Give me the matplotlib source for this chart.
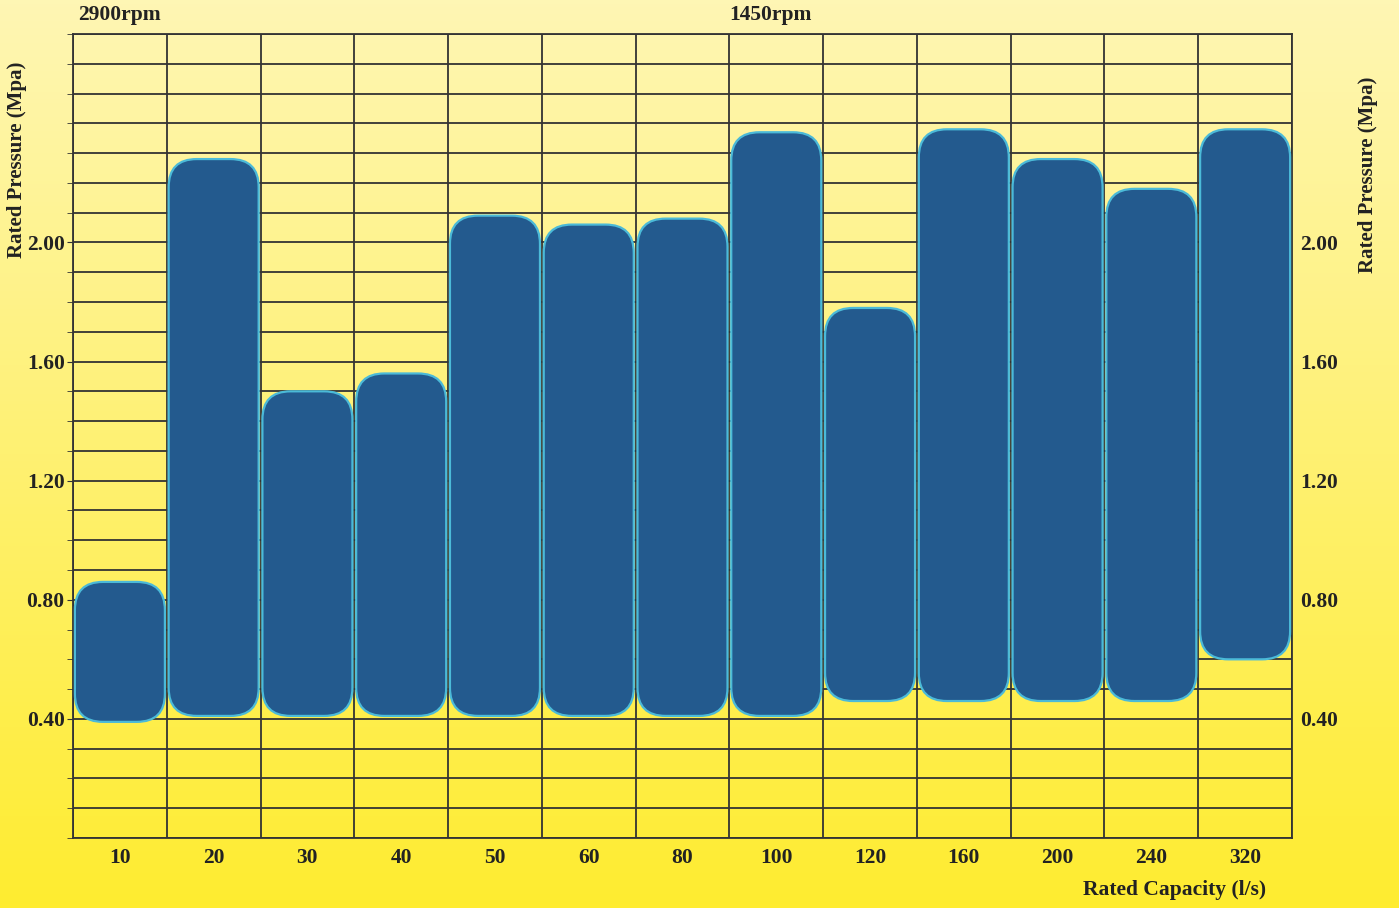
import numpy as np
import matplotlib
matplotlib.use('Agg')
import matplotlib.pyplot as plt
from matplotlib.patches import FancyBboxPatch
from matplotlib.colors import LinearSegmentedColormap

plt.rcParams['font.family'] = ['Liberation Serif', 'DejaVu Serif']
plt.rcParams['font.weight'] = 'bold'

capacity = ['10', '20', '30', '40', '50', '60', '80', '100', '120', '160', '200', '240', '320']
p_low = [0.39, 0.41, 0.41, 0.41, 0.41, 0.41, 0.41, 0.41, 0.46, 0.46, 0.46, 0.46, 0.60]
p_high = [0.86, 2.28, 1.50, 1.56, 2.09, 2.06, 2.08, 2.37, 1.78, 2.38, 2.28, 2.18, 2.38]
tick_vals = [0.4, 0.8, 1.2, 1.6, 2.0]

text_color = '#222222'
bar_color = '#235a8e'
edge_color = '#4bbad8'
grid_color = '#333333'

fig = plt.figure(figsize=(13.99, 9.08), dpi=100)

# background gradient
bg = fig.add_axes([0, 0, 1, 1], zorder=-10)
grad = LinearSegmentedColormap.from_list('bg', ['#fef6b4', '#ffec30'])
bg.imshow(np.linspace(0, 1, 256).reshape(-1, 1), aspect='auto', cmap=grad,
          extent=[0, 1, 0, 1])
bg.axis('off')

ax = fig.add_axes([73 / 1399, 1 - 838 / 908, (1292 - 73) / 1399, (838 - 34) / 908])
ax.patch.set_alpha(0)
n = len(capacity)
ax.set_xlim(-0.5, n - 0.5)
ax.set_ylim(0, 2.7)

# grid lines
for y in np.arange(0, 2.71, 0.1):
    ax.axhline(y, color=grid_color, lw=1.3, zorder=1)
for x in np.arange(-0.5, n, 1.0):
    ax.axvline(x, color=grid_color, lw=1.3, zorder=1)

# px per data unit for rounding correction
px_x = (1292 - 73) / n
px_y = (838 - 34) / 2.7
w = 0.96
for i in range(n):
    box = FancyBboxPatch((i - w / 2, p_low[i]), w, p_high[i] - p_low[i],
                         boxstyle='round,pad=0,rounding_size=0.3',
                         mutation_aspect=px_x / px_y,
                         facecolor=bar_color, edgecolor=edge_color, lw=1.6, zorder=3)
    ax.add_patch(box)

for s in ax.spines.values():
    s.set_color(grid_color)
    s.set_linewidth(1.3)

ax.set_xticks(range(n))
ax.set_xticklabels(capacity, fontsize=15.5, color=text_color, fontweight='bold')
ax.tick_params(axis='x', length=0, pad=7)
ax.set_yticks(tick_vals)
ax.set_yticklabels(['%.2f' % v for v in tick_vals], fontsize=15.5, color=text_color,
                   fontweight='bold')
ax.set_yticks(np.arange(0, 2.71, 0.1), minor=True)
ax.tick_params(axis='y', which='both', left=True, right=False, labelleft=True,
               labelright=True, length=4, color=grid_color, pad=2)

fig.text(78 / 1399, 1 - 15 / 908, '2900rpm', fontsize=15.5, color=text_color,
         fontweight='bold', ha='left', va='center')
fig.text(770 / 1399, 1 - 15 / 908, '1450rpm', fontsize=15.5, color=text_color,
         fontweight='bold', ha='center', va='center')

fig.text(17 / 1399, 1 - 160 / 908, 'Rated Pressure (Mpa)', rotation=90, fontsize=15,
         color=text_color, fontweight='bold', ha='center', va='center')
fig.text(1368 / 1399, 1 - 175 / 908, 'Rated Pressure (Mpa)', rotation=90, fontsize=15,
         color=text_color, fontweight='bold', ha='center', va='center')
fig.text(1175 / 1399, 1 - 890 / 908, 'Rated Capacity (l/s)', fontsize=15.5,
         color=text_color, fontweight='bold', ha='center', va='center')

fig.savefig('out.png', dpi=100)
